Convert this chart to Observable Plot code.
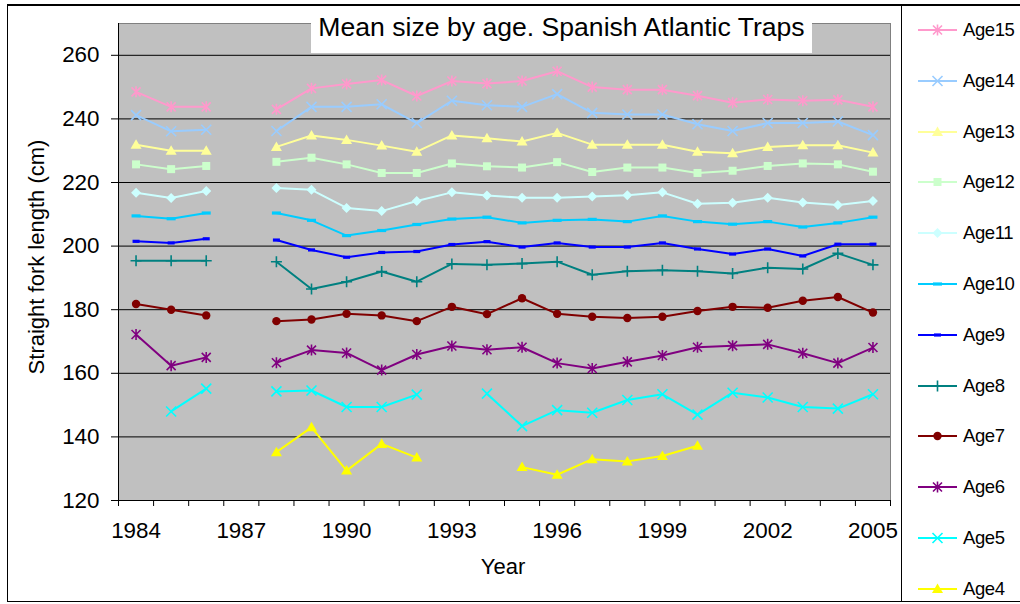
<!DOCTYPE html>
<html><head><meta charset="utf-8">
<script src="https://cdn.jsdelivr.net/npm/d3@7"></script>
<script src="https://cdn.jsdelivr.net/npm/@observablehq/plot@0.6"></script>
<style>
body{margin:0;background:#fff;font-family:"Liberation Sans",Arial,sans-serif;}
#wrap{position:relative;width:1020px;height:604px;overflow:hidden;background:#fff;}
#chart{position:absolute;left:0;top:0;}
#border{position:absolute;left:7px;top:4px;width:1040px;height:598px;border:1px solid #000;border-top-width:2px;box-sizing:border-box;pointer-events:none;}
#title{position:absolute;left:311px;top:6px;width:501px;height:47px;background:#fff;font-size:26.6px;line-height:42px;text-align:center;color:#000;white-space:nowrap;}
#ylab{position:absolute;left:37px;top:257px;transform:translate(-50%,-50%) rotate(-90deg);font-size:22px;white-space:nowrap;color:#000;}
#xlab{position:absolute;left:503px;top:567px;transform:translate(-50%,-50%);font-size:22px;color:#000;}
#legend{position:absolute;left:901px;top:5px;width:130px;height:597px;border-left:1px solid #000;background:#fff;}
.li{position:absolute;left:0;height:24px;width:130px;}
.li svg{position:absolute;left:0;top:0;}
.li span{position:absolute;left:61px;top:0;line-height:24px;font-size:18.5px;letter-spacing:-0.4px;color:#000;}
</style></head>
<body>
<div id="wrap">
  <div id="chart"></div>
  <div id="title">Mean size by age. Spanish Atlantic Traps</div>
  <div id="ylab">Straight fork length (cm)</div>
  <div id="xlab">Year</div>
  <div id="legend"></div>
  <div id="border"></div>
</div>
<script>
// ---- data ----
const years = [1984,1985,1986,1987,1988,1989,1990,1991,1992,1993,1994,1995,1996,1997,1998,1999,2000,2001,2002,2003,2004,2005];
const labelYears = [1984,1987,1990,1993,1996,1999,2002,2005];
const yTicks = [120,140,160,180,200,220,240,260];
const seriesNames = ["Age15","Age14","Age13","Age12","Age11","Age10","Age9","Age8","Age7","Age6","Age5","Age4"];
const seriesColors = ["#FF99CC","#99CCFF","#FFFF99","#CCFFCC","#CCFFFF","#00CCFF","#0000FF","#008080","#800000","#800080","#00FFFF","#FFFF00"];
const seriesMarkers = ["star","x","triangle","square","diamond","dash","dashSmall","plus","circle","star","x","triangle"];

const age15 = [248.5,243.8,243.8,null,243.0,249.6,251.0,252.2,247.2,251.9,251.1,251.9,255.0,250.0,249.2,249.2,247.3,245.1,246.1,245.7,246.0,243.8];
const age14 = [241.2,236.1,236.6,null,236.2,243.8,243.8,244.6,238.7,245.7,244.3,243.8,247.8,241.9,241.4,241.4,238.3,236.2,238.7,238.7,239.2,234.9];
const age13 = [231.9,230.0,230.0,null,231.2,234.8,233.4,231.6,229.7,234.8,233.9,232.9,235.6,231.9,231.9,231.9,229.7,229.2,231.2,231.7,231.7,229.4];
const age12 = [225.7,224.2,225.2,null,226.5,227.8,225.7,223.0,223.0,226.0,225.1,224.7,226.4,223.3,224.7,224.7,223.0,223.7,225.2,226.0,225.7,223.4];
const age11 = [216.8,215.1,217.3,null,218.3,217.7,212.0,211.0,214.2,216.9,215.9,215.2,215.2,215.6,216.0,216.9,213.3,213.6,215.2,213.7,212.9,214.2];
const age10 = [209.5,208.6,210.4,null,210.4,208.1,203.3,204.9,206.8,208.5,209.1,207.3,208.1,208.4,207.7,209.5,207.7,206.9,207.7,206.0,207.3,209.1];
const age9  = [201.5,201.0,202.3,null,201.9,198.8,196.5,198.0,198.3,200.5,201.4,199.7,201.0,199.7,199.7,201.0,199.1,197.5,199.1,196.9,200.6,200.6];
const age8  = [195.4,195.4,195.4,null,195.1,186.5,188.8,192.0,188.8,194.4,194.1,194.5,195.1,191.0,192.1,192.4,192.1,191.4,193.2,192.8,197.7,194.1];
const age7  = [181.8,180.0,178.2,null,176.4,176.9,178.7,178.2,176.4,180.9,178.6,183.6,178.7,177.8,177.4,177.8,179.6,180.9,180.6,182.8,184.0,179.1];
const age6  = [172.2,162.4,165.0,null,163.3,167.3,166.4,161.0,165.9,168.6,167.4,168.2,163.2,161.5,163.6,165.6,168.2,168.7,169.1,166.3,163.2,168.1];
const age5  = [null,148.0,155.2,null,154.3,154.6,149.4,149.4,153.3,null,153.6,143.4,148.4,147.6,151.6,153.4,147.0,153.9,152.4,149.4,148.9,153.4];
const age4  = [null,null,null,null,135.2,143.0,129.4,137.8,133.5,null,null,130.5,128.1,133.0,132.3,134.0,137.2,null,null,null,null,null];
const seriesValues = [age15,age14,age13,age12,age11,age10,age9,age8,age7,age6,age5,age4];

// ---- marker shapes ----
const symbols = {
  star: {draw(c){const a=4.5;c.moveTo(-a,-a);c.lineTo(a,a);c.moveTo(-a,a);c.lineTo(a,-a);c.moveTo(0,-5.5);c.lineTo(0,5.5);}},
  x: {draw(c){const a=5;c.moveTo(-a,-a);c.lineTo(a,a);c.moveTo(-a,a);c.lineTo(a,-a);}},
  plus: {draw(c){const a=5.5;c.moveTo(-a,0);c.lineTo(a,0);c.moveTo(0,-a);c.lineTo(0,a);}},
  triangle: {draw(c){c.moveTo(0,-5.5);c.lineTo(5.5,4);c.lineTo(-5.5,4);c.closePath();}},
  square: {draw(c){c.rect(-4,-4,8,8);}},
  diamond: {draw(c){c.moveTo(0,-5);c.lineTo(5,0);c.lineTo(0,5);c.lineTo(-5,0);c.closePath();}},
  circle: {draw(c){c.moveTo(4.2,0);c.arc(0,0,4.2,0,2*Math.PI);}},
  dash: {draw(c){c.rect(-4.5,-1.6,9,3.2);}},
  dashSmall: {draw(c){c.rect(-3.5,-1.6,7,3.2);}}
};
const strokeMarkers = new Set(["star","x","plus"]);

const halfYears = years.map(y => y - 0.5).concat([years[years.length-1] + 0.5]);

const lineMarks = [], dotMarks = [];
seriesNames.forEach((name, i) => {
  const rows = years.map((yr, j) => ({year: yr, value: seriesValues[i][j]}));
  const color = seriesColors[i];
  const m = seriesMarkers[i];
  lineMarks.push(Plot.line(rows, {x: "year", y: "value", stroke: color, strokeWidth: 2}));
  const defined = rows.filter(d => d.value != null);
  if (strokeMarkers.has(m)) {
    dotMarks.push(Plot.dot(defined, {x: "year", y: "value", symbol: symbols[m], fill: "none", stroke: color, strokeWidth: 1.6}));
  } else {
    dotMarks.push(Plot.dot(defined, {x: "year", y: "value", symbol: symbols[m], fill: color, stroke: "none"}));
  }
});

const chart = Plot.plot({
  width: 1020, height: 604,
  marginLeft: 118, marginRight: 130, marginTop: 23, marginBottom: 104,
  x: {domain: [halfYears[0], halfYears[halfYears.length-1]]},
  y: {domain: [120, 270]},
  style: {background: "transparent", fontFamily: "'Liberation Sans', Arial, sans-serif", fontSize: "22.4px", color: "#000", overflow: "visible"},
  marks: [
    Plot.frame({fill: "#C0C0C0", stroke: "#808080"}),
    Plot.ruleY(yTicks.slice(1), {stroke: "#000", strokeWidth: 1}),
    Plot.axisY({ticks: yTicks, tickSize: 7, tickPadding: 12, tickFormat: "d", label: null, stroke: "#000"}),
    Plot.axisX({ticks: labelYears, tickSize: 0, tickPadding: 22, tickFormat: "d", label: null}),
    Plot.axisX({ticks: halfYears, tickSize: 6, tickFormat: () => "", label: null, stroke: "#000"}),
    Plot.ruleX([halfYears[0]], {stroke: "#000"}),
    Plot.ruleY([120], {stroke: "#000"}),
    ...lineMarks.slice().reverse(),
    ...dotMarks.slice().reverse()
  ]
});
document.getElementById("chart").appendChild(chart);

// ---- legend ----
const legend = d3.select("#legend");
seriesNames.forEach((name, i) => {
  const cy = 25 + 50.8 * i;
  const item = legend.append("div").attr("class", "li").style("top", (cy - 12) + "px");
  const svg = item.append("svg").attr("width", 60).attr("height", 24);
  svg.append("line").attr("x1", 16).attr("x2", 55).attr("y1", 12).attr("y2", 12)
    .attr("stroke", seriesColors[i]).attr("stroke-width", 2);
  const m = seriesMarkers[i];
  const p = svg.append("path").attr("transform", "translate(35.5,12)")
    .attr("d", d3.symbol(symbols[m])());
  if (strokeMarkers.has(m)) p.attr("fill", "none").attr("stroke", seriesColors[i]).attr("stroke-width", 1.6);
  else p.attr("fill", seriesColors[i]);
  item.append("span").text(name);
});
</script>
</body></html>
